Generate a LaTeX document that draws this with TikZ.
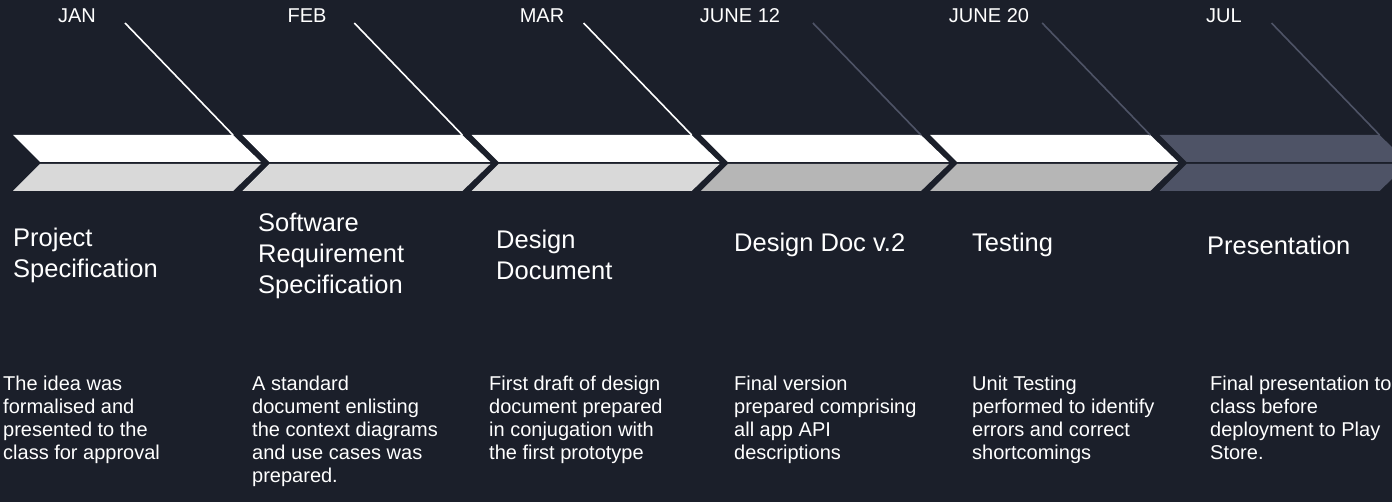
\documentclass[tikz,border=0pt]{standalone}
\usepackage{fontspec}
\setmainfont{Liberation Sans}
\usetikzlibrary{positioning}
\definecolor{bgnavy}{HTML}{1B1F2A}
\definecolor{palegray}{HTML}{D9D9D9}
\definecolor{midgray}{HTML}{B6B6B6}
\definecolor{slate}{HTML}{4E5366}
\newcommand{\chevron}[3]{%
  \fill[#2] (#1,135) -- ++(220,0) -- ++(28,27) -- ++(-221,0) -- cycle;
  \fill[#3] (#1+27,164) -- ++(221,0) -- ++(-28,27) -- ++(-220,0) -- cycle;}

\begin{document}
\begin{tikzpicture}[
    x = 1pt, y = -1pt,
    month/.style = {text=white, inner sep=0pt, font=\fontsize{20}{23}\selectfont},
    titel/.style = {text=white, inner sep=0pt, anchor=west, align=left, font=\fontsize{25.5}{31}\selectfont},
    besk/.style  = {text=white, inner sep=0pt, anchor=north west, align=left, font=\fontsize{20}{23}\selectfont},
    hell/.style  = {white, line width=1.6pt},
    dunkel/.style = {slate, line width=1.6pt}
    ]

  \fill[bgnavy] (0,0) rectangle (1392,502);
  \useasboundingbox (0,0) rectangle (1392,502);

  \chevron{13}{white}{palegray}
  \chevron{242.3}{white}{palegray}
  \chevron{471.6}{white}{palegray}
  \chevron{700.9}{white}{midgray}
  \chevron{930.2}{white}{midgray}
  \chevron{1159.5}{slate}{slate}

  \node[month] (jan) at (77,16) {JAN};
  \node[month] (feb) at (307,16) {FEB};
  \node[month] (mar) at (542,16) {MAR};
  \node[month] (jun12) at (740,16) {JUNE 12};
  \node[month] (jun20) at (989,16) {JUNE 20};
  \node[month] (jul) at (1224,16) {JUL};

  \coordinate (s1) at (125,23);    \coordinate (e1) at (233,135);
  \coordinate (s2) at (354.3,23);  \coordinate (e2) at (462.3,135);
  \coordinate (s3) at (583.6,23);  \coordinate (e3) at (691.6,135);
  \coordinate (s4) at (812.9,23);  \coordinate (e4) at (920.9,135);
  \coordinate (s5) at (1042.2,23); \coordinate (e5) at (1150.2,135);
  \coordinate (s6) at (1271.5,23); \coordinate (e6) at (1379.5,135);

  \draw[hell] (s1) -- (e1);
  \draw[hell] (s2) -- (e2);
  \draw[hell] (s3) -- (e3);
  \draw[dunkel] (s4) -- (e4);
  \draw[dunkel] (s5) -- (e5);
  \draw[dunkel] (s6) -- (e6);

  \node[titel] (t1) at (13,255) {Project\\Specification};
  \node[titel] (t2) at (258,256) {Software\\Requirement\\Specification};
  \node[titel] (t3) at (496,255) {Design\\Document};
  \node[titel] (t4) at (734,245) {Design Doc v.2};
  \node[titel] (t5) at (972,245) {Testing};
  \node[titel] (t6) at (1207,245) {Presentation};

  \node[besk] (d1) at (3,376) {The idea was\\formalised and\\presented to the\\class for approval};
  \node[besk] (d2) at (252,376) {A standard\\document enlisting\\the context diagrams\\and use cases was\\prepared.};
  \node[besk] (d3) at (489,376) {First draft of design\\document prepared\\in conjugation with\\the first prototype};
  \node[besk] (d4) at (734,376) {Final version\\prepared comprising\\all app API\\descriptions};
  \node[besk] (d5) at (972,376) {Unit Testing\\performed to identify\\errors and correct\\shortcomings};
  \node[besk] (d6) at (1210,376) {Final presentation to\\class before\\deployment to Play\\Store.};

\end{tikzpicture}
\end{document}
